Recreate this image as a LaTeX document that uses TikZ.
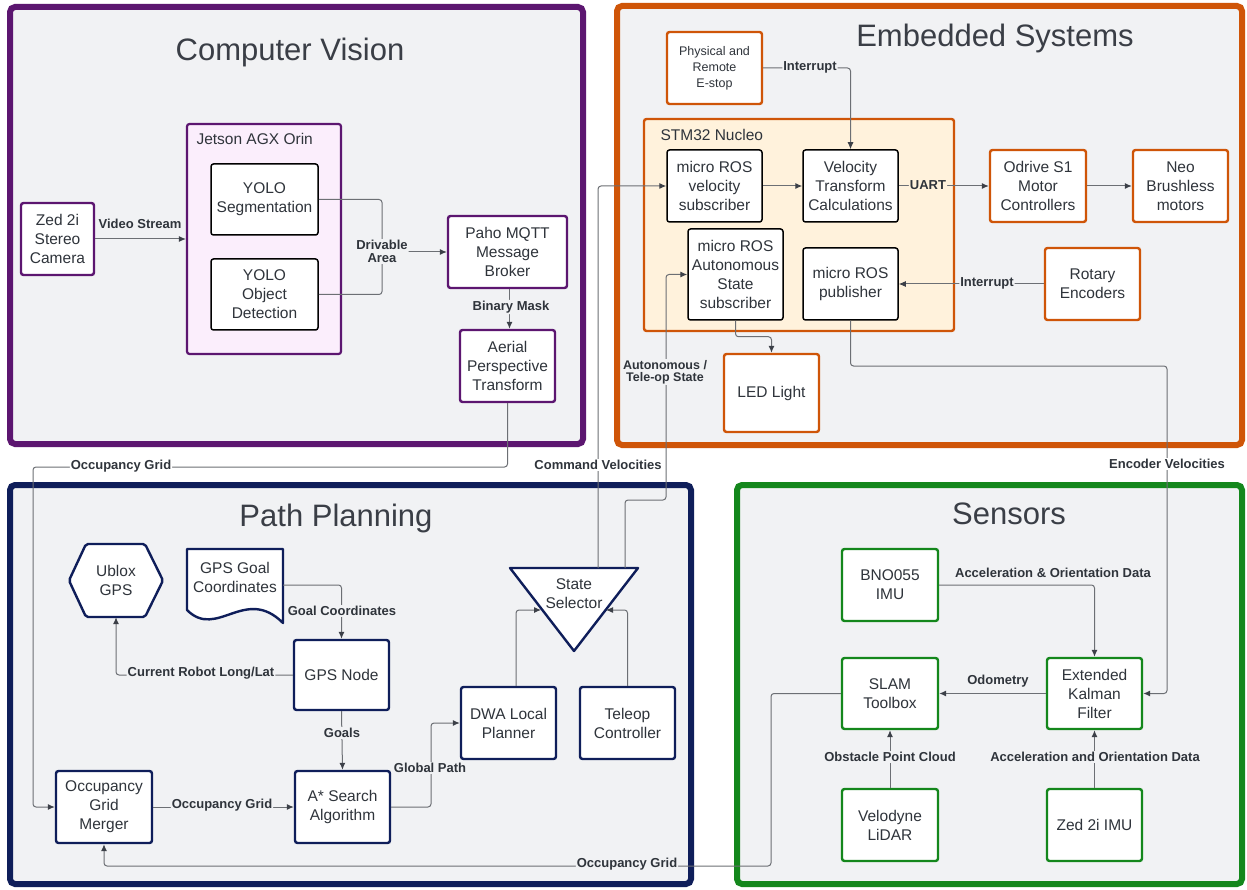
\documentclass[tikz,border=0pt]{standalone}
\usepackage{fontspec}
\setmainfont{Liberation Sans}
\usetikzlibrary{arrows.meta}
\definecolor{panelbg}{RGB}{241,242,244}
\definecolor{cvc}{RGB}{92,22,112}
\definecolor{esc}{RGB}{207,85,8}
\definecolor{ppc}{RGB}{15,30,90}
\definecolor{snc}{RGB}{20,135,28}
\definecolor{jetfill}{RGB}{251,238,252}
\definecolor{stmfill}{RGB}{255,242,220}
\definecolor{linec}{RGB}{108,111,116}
\definecolor{tipc}{RGB}{60,64,72}
\definecolor{txtc}{RGB}{47,52,59}
\definecolor{titlec}{RGB}{58,62,70}
\tikzset{
  panel/.style={draw=#1, line width=6pt, fill=panelbg, rounded corners=5pt},
  ttl/.style={text=titlec, font=\fontsize{31}{36}\selectfont},
  txt/.style={text=txtc, font=\fontsize{15.5}{19}\selectfont, align=center},
  box/.style={draw=#1, line width=2.4pt, fill=white, rounded corners=2.5pt, align=center,
    inner sep=1pt, text=txtc, font=\fontsize{15.5}{19}\selectfont},
  ibox/.style={box=black, line width=1.5pt},
  wh/.style 2 args={minimum width=#1pt, minimum height=#2pt},
  ppshape/.style={draw=ppc, line width=2.4pt, fill=white, line join=round},
  conn/.style={draw=linec, line width=1pt, rounded corners=3pt},
  arr/.style={conn, -{Latex[length=7pt,width=6pt,color=tipc]}},
  lbl/.style={font=\bfseries\fontsize{13}{13}\selectfont, text=txtc, fill=panelbg, inner sep=1pt, align=center},
  lblw/.style={lbl, fill=white},
  lbls/.style={lbl, fill=stmfill}
}
\begin{document}
\begin{tikzpicture}[x=1pt,y=1pt]
\path[use as bounding box, fill=white] (0,0) rectangle (1247,-890);

% ---------- panels ----------
\draw[panel=cvc] (10,-7) rectangle (583,-444);
\draw[panel=esc] (617,-6) rectangle (1242,-445);
\draw[panel=ppc] (10,-485) rectangle (691,-884);
\draw[panel=snc] (737,-485) rectangle (1242,-884);

\node[ttl] (cvtitle) at (290,-52) {Computer Vision};
\node[ttl] (estitle) at (995,-38) {Embedded Systems};
\node[ttl] (pptitle) at (336,-518) {Path Planning};
\node[ttl] (sntitle) at (1009,-514) {Sensors};

% ---------- Computer Vision ----------
\node[box=cvc, wh={73}{72}] (zed) at (57.5,-239) {Zed 2i\\Stereo\\Camera};
\node[box=cvc, fill=jetfill, line width=2.2pt, wh={154}{230}] (jetson) at (264,-239) {};
\node[txt, anchor=west] (jetlbl) at (193,-139) {Jetson AGX Orin};
\node[ibox, wh={107}{71}] (seg) at (264.5,-199.5) {YOLO\\Segmentation};
\node[ibox, wh={107}{71}] (det) at (264.5,-294.5) {YOLO\\Object\\Detection};
\node[box=cvc, wh={119}{72}] (paho) at (507.5,-252) {Paho MQTT\\Message\\Broker};
\node[box=cvc, wh={95}{72}] (aerial) at (507.5,-366) {Aerial\\Perspective\\Transform};

% ---------- Embedded Systems ----------
\node[box=esc, font=\fontsize{12.5}{16}\selectfont, wh={95}{72}] (estop) at (714.5,-68) {Physical and\\Remote\\E-stop};
\node[box=esc, fill=stmfill, wh={310}{212}] (stm) at (799,-225) {};
\node[txt, anchor=west] (stmlbl) at (657,-135) {STM32 Nucleo};
\node[ibox, wh={95}{72}] (velsub) at (714.5,-186) {micro ROS\\velocity\\subscriber};
\node[ibox, wh={95}{72}] (veltf) at (850.5,-186) {Velocity\\Transform\\Calculations};
\node[box=esc, wh={96}{72}] (odrive) at (1038,-186) {Odrive S1\\Motor\\Controllers};
\node[box=esc, wh={95}{72}] (neo) at (1180.5,-186) {Neo\\Brushless\\motors};
\node[ibox, wh={95}{91}] (autosub) at (735.5,-274.5) {micro ROS\\Autonomous\\State\\subscriber};
\node[ibox, wh={95}{72}] (pub) at (850.5,-284) {micro ROS\\publisher};
\node[box=esc, wh={95}{72}] (rotary) at (1092.5,-284) {Rotary\\Encoders};
\node[box=esc, wh={95}{78}] (led) at (771.5,-393) {LED Light};

% ---------- Path Planning ----------
\draw[ppshape, rounded corners=2pt] (69,-580.5) -- (86,-544) -- (145,-544) -- (163,-580.5) -- (145,-617) -- (86,-617) -- cycle;
\node[txt, minimum width=94pt, minimum height=73pt, inner sep=0pt] (ublox) at (116,-580.5) {Ublox\\GPS};
\draw[ppshape] (187,-549) -- (283,-549) -- (283,-623) .. controls (245,-585) and (217,-640) .. (187,-610) -- cycle;
\node[txt, minimum width=96pt, minimum height=57pt, inner sep=0pt] (goaldoc) at (235,-577.5) {GPS Goal\\Coordinates};
\draw[ppshape] (510,-568) -- (638,-568) -- (574,-651) -- cycle;
\node[txt, inner sep=0pt] (state) at (574,-593.5) {State\\Selector};
\coordinate (stT1) at (598,-568);
\coordinate (stT2) at (625,-568);
\coordinate (stL) at (541,-610);
\coordinate (stR) at (606,-610);
\node[box=ppc, wh={95}{70}] (gpsnode) at (341.5,-675) {GPS Node};
\node[box=ppc, wh={95}{72}] (astar) at (342.5,-807) {A* Search\\Algorithm};
\node[box=ppc, wh={96}{72}] (merger) at (104,-807) {Occupancy\\Grid\\Merger};
\node[box=ppc, wh={95}{72}] (dwa) at (508.5,-723) {DWA Local\\Planner};
\node[box=ppc, wh={95}{72}] (teleop) at (627.5,-723) {Teleop\\Controller};

% ---------- Sensors ----------
\node[box=snc, wh={96}{72}] (bno) at (890,-585) {BNO055\\IMU};
\node[box=snc, wh={96}{71}] (slam) at (890,-693.5) {SLAM\\Toolbox};
\node[box=snc, wh={95}{71}] (ekf) at (1094.5,-693.5) {Extended\\Kalman\\Filter};
\node[box=snc, wh={96}{72}] (velo) at (890,-825) {Velodyne\\LiDAR};
\node[box=snc, wh={95}{72}] (zedimu) at (1094.5,-825) {Zed 2i IMU};

% ---------- connectors ----------
% Computer vision
\draw[arr] (zed.east) -- (zed.east -| jetson.west)
  node[lbl, fill=none] at (140,-224) {Video Stream};
\draw[conn] (seg.east) -| (382,-252);
\draw[conn] (det.east) -| (382,-252);
\draw[arr] (382,-252) -- (paho.west)
  node[lbl] at (382,-251.5) {Drivable\\Area};
\draw[arr] ([xshift=2pt]paho.south) -- ([xshift=2pt]aerial.north)
  node[lbl] at (511,-307) {Binary Mask};
\draw[arr] (aerial.south) |- (33,-467) |- (merger.west)
  node[lblw] at (121,-466) {Occupancy Grid};

% Embedded
\draw[arr] (estop.east) -| (veltf.north)
  node[lbl] at (810,-67) {Interrupt};
\draw[arr] (velsub.east) -- (veltf.west);
\draw[arr] (veltf.east) -- (odrive.west)
  node[lbls] at (928,-185) {UART};
\draw[arr] (odrive.east) -- (neo.west);
\draw[arr] (rotary.west) -- (pub.east)
  node[lbl] at (987,-283) {Interrupt};
\draw[arr] (autosub.south) -- ++(0,-16) -| (led.north);
\draw[arr] (pub.south) |- (1167,-366) |- (ekf.east)
  node[lblw] at (1167,-464) {Encoder Velocities};
\draw[arr] (stT1) |- (velsub.west)
  node[lblw] at (598,-465) {Command Velocities};
\draw[arr] (stT2) |- (666,-500) |- (autosub.west)
  node[lbl, font=\bfseries\fontsize{12.5}{12}\selectfont] at (665,-372) {Autonomous /\\Tele-op State};

% Path planning
\draw[arr] ([yshift=-7.5pt]goaldoc.east) -| (gpsnode.north)
  node[lbl] at (342,-611) {Goal Coordinates};
\draw[arr] (gpsnode.west) -| (ublox.south)
  node[lbl] at (201,-673) {Current Robot Long/Lat};
\draw[arr] (gpsnode.south) -- (astar.north)
  node[lbl] at (342,-733) {Goals};
\draw[arr] (merger.east) -- (astar.west)
  node[lbl] at (222,-805) {Occupancy Grid};
\draw[arr] (astar.east) -- (431,-807) |- (dwa.west)
  node[lbl] at (430,-768) {Global Path};
\draw[arr] ([xshift=7.5pt]dwa.north) |- (stL);
\draw[arr] (teleop.north) |- (stR);
\draw[arr] (slam.west) -| (771,-866) -| (merger.south)
  node[lbl] at (627,-864) {Occupancy Grid};

% Sensors
\draw[arr] (bno.east) -| (ekf.north)
  node[lbl, fill=none] at (1053,-573) {Acceleration \& Orientation Data};
\draw[arr] (ekf.west) -- (slam.east)
  node[lbl, fill=none] at (998,-681) {Odometry};
\draw[arr] (velo.north) -- (slam.south)
  node[lbl] at (890,-757) {Obstacle Point Cloud};
\draw[arr] (zedimu.north) -- (ekf.south)
  node[lbl] at (1095,-757) {Acceleration and Orientation Data};
\end{tikzpicture}
\end{document}
